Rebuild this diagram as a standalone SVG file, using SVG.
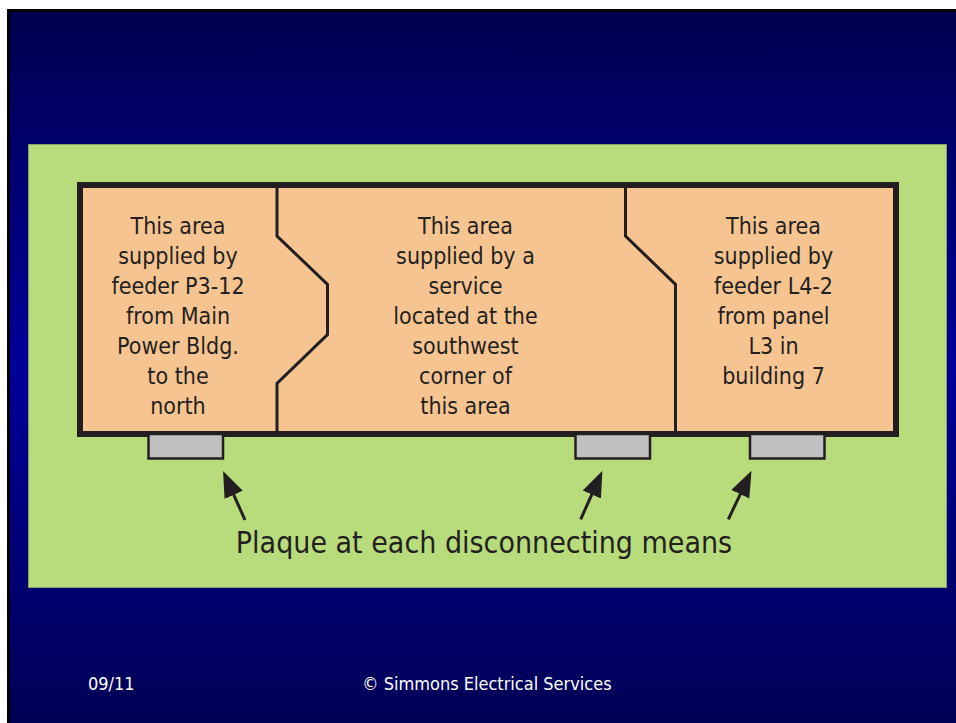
<svg xmlns="http://www.w3.org/2000/svg" width="956" height="723" viewBox="0 0 956 723">
  <defs>
    <linearGradient id="bg" x1="0" y1="0" x2="0" y2="1">
      <stop offset="0" stop-color="#00004f"/>
      <stop offset="0.5" stop-color="#00009a"/>
      <stop offset="1" stop-color="#000055"/>
    </linearGradient>
    <marker id="head" markerUnits="userSpaceOnUse" markerWidth="30" markerHeight="24" viewBox="0 -12 30 24" refX="1" refY="0" orient="auto">
      <path d="M0,-10 L26,0 L0,10 z" fill="#231f20"/>
    </marker>
  </defs>
  <style>
    .lbl { font-family: "DejaVu Sans Condensed", "DejaVu Sans", sans-serif; font-stretch: condensed; fill: #231f20; text-anchor: middle; }
    .area { font-size: 23px; }
    .foot { font-family: "DejaVu Sans Condensed", "DejaVu Sans", sans-serif; font-stretch: condensed; fill: #ffffff; font-size: 18px; }
    .wall { fill: none; stroke: #231f20; stroke-width: 3; stroke-linejoin: miter; }
    .plaque { fill: #c0c0c0; stroke: #231f20; stroke-width: 2.5; }
    .arrow { fill: none; stroke: #231f20; stroke-width: 3; marker-end: url(#head); }
  </style>

  <rect x="0" y="0" width="956" height="723" fill="#ffffff"/>
  <rect x="7" y="9" width="949" height="714" fill="#000000"/>
  <rect x="10" y="12" width="946" height="711" fill="url(#bg)"/>

  <g id="site">
    <rect x="28.5" y="144.5" width="918" height="443" fill="#b8dc7c" stroke="#8a9b6c" stroke-width="1"/>
  </g>

  <g id="building">
    <rect x="80" y="185" width="816" height="249" fill="#f5c490" stroke="#231f20" stroke-width="6"/>
    <path class="wall" d="M277,188 L277,236 L327.5,284.5 L327.5,334.5 L277,383.5 L277,431"/>
    <path class="wall" d="M625.5,188 L625.5,236 L675.5,284.5 L675.5,431"/>
  </g>

  <g id="area-left">
    <text class="lbl area" x="178" y="234"><tspan x="178" y="234">This area</tspan><tspan x="178" y="264">supplied by</tspan><tspan x="178" y="294">feeder P3-12</tspan><tspan x="178" y="324">from Main</tspan><tspan x="178" y="354">Power Bldg.</tspan><tspan x="178" y="384">to the</tspan><tspan x="178" y="414">north</tspan></text>
  </g>

  <g id="area-center">
    <text class="lbl area" x="465.5" y="234"><tspan x="465.5" y="234">This area</tspan><tspan x="465.5" y="264">supplied by a</tspan><tspan x="465.5" y="294">service</tspan><tspan x="465.5" y="324">located at the</tspan><tspan x="465.5" y="354">southwest</tspan><tspan x="465.5" y="384">corner of</tspan><tspan x="465.5" y="414">this area</tspan></text>
  </g>

  <g id="area-right">
    <text class="lbl area" x="773.5" y="234"><tspan x="773.5" y="234">This area</tspan><tspan x="773.5" y="264">supplied by</tspan><tspan x="773.5" y="294">feeder L4-2</tspan><tspan x="773.5" y="324">from panel</tspan><tspan x="773.5" y="354">L3 in</tspan><tspan x="773.5" y="384">building 7</tspan></text>
  </g>

  <g id="plaque-1"><rect class="plaque" x="148.5" y="434" width="74.5" height="24.5"/></g>
  <g id="plaque-2"><rect class="plaque" x="575.5" y="434" width="74.5" height="24.5"/></g>
  <g id="plaque-3"><rect class="plaque" x="750" y="434" width="74.5" height="24.5"/></g>

  <g id="connectors">
    <line class="arrow" x1="245" y1="520" x2="233.3" y2="493.9"/>
    <line class="arrow" x1="580.7" y1="519.3" x2="592.2" y2="493.6"/>
    <line class="arrow" x1="728.3" y1="519.3" x2="740.7" y2="493.4"/>
  </g>

  <g id="caption">
    <text class="lbl" x="484" y="553" font-size="30">Plaque at each disconnecting means</text>
  </g>

  <g id="footer">
    <text class="foot" x="88" y="690">09/11</text>
    <text class="foot" x="487" y="690" text-anchor="middle">© Simmons Electrical Services</text>
  </g>
</svg>
